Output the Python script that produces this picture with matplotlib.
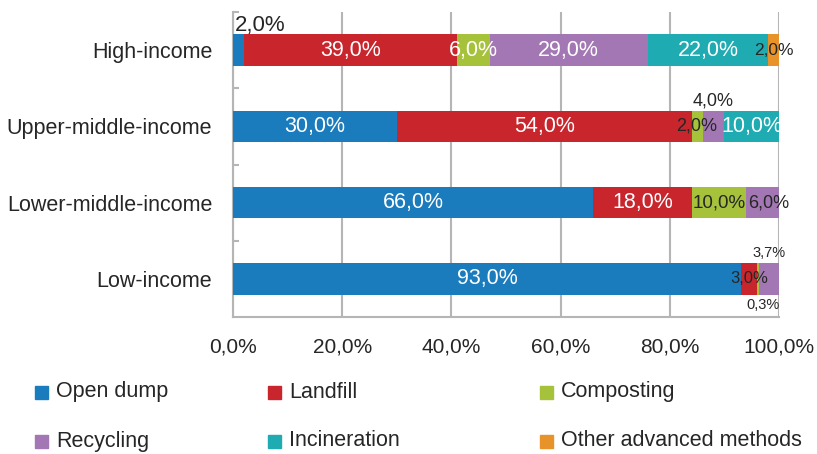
import matplotlib.pyplot as plt
import numpy as np
from matplotlib.patches import Rectangle

plt.rcParams['font.family'] = ['Liberation Sans', 'DejaVu Sans']

# waste treatment share by income group (%)
categories = ['High-income', 'Upper-middle-income', 'Lower-middle-income', 'Low-income']
series = ['Open dump', 'Landfill', 'Composting', 'Recycling', 'Incineration', 'Other advanced methods']
open_dump = [2.0, 30.0, 66.0, 93.0]
landfill = [39.0, 54.0, 18.0, 3.0]
composting = [6.0, 2.0, 10.0, 0.3]
recycling = [29.0, 4.0, 6.0, 3.7]
incineration = [22.0, 10.0, 0.0, 0.0]
other = [2.0, 0.0, 0.0, 0.0]
x_ticks = [0, 20, 40, 60, 80, 100]

colors = ['#1a7bbd', '#c8252c', '#a5c23a', '#a277b3', '#1eabb1', '#e8922a']
grey = '#b5b5b5'
dark = '#262626'

# labels that sit outside the bar, and labels drawn in dark text
outside = {('High-income', 'Open dump'): 'above_left',
           ('Upper-middle-income', 'Recycling'): 'above',
           ('Low-income', 'Recycling'): 'above',
           ('Low-income', 'Composting'): 'below'}
dark_labels = {('High-income', 'Other advanced methods'),
               ('Upper-middle-income', 'Composting'),
               ('Lower-middle-income', 'Composting'),
               ('Lower-middle-income', 'Recycling'),
               ('Low-income', 'Landfill')}
small_labels = {('High-income', 'Other advanced methods'): 12.5,
                ('Upper-middle-income', 'Composting'): 13,
                ('Upper-middle-income', 'Recycling'): 13,
                ('Lower-middle-income', 'Composting'): 13.5,
                ('Lower-middle-income', 'Recycling'): 13,
                ('Low-income', 'Landfill'): 12,
                ('Low-income', 'Recycling'): 10.5,
                ('Low-income', 'Composting'): 10.5}

W, H = 817, 454
fig = plt.figure(figsize=(W / 100, H / 100), dpi=100)
ax = fig.add_axes([233 / W, 1 - 317 / H, 546 / W, 305 / H])

ypos = np.arange(len(categories))[::-1]
bar_h = 0.41
left = np.zeros(len(categories))
for name, vals, col in zip(series, [open_dump, landfill, composting, recycling, incineration, other], colors):
    vals = np.array(vals)
    ax.barh(ypos, vals, left=left, height=bar_h, color=col, zorder=3)
    for i, v in enumerate(vals):
        if v <= 0:
            continue
        key = (categories[i], name)
        txt = f'{v:.1f}%'.replace('.', ',')
        fs = small_labels.get(key, 15.5)
        xc = left[i] + v / 2
        place = outside.get(key)
        if place == 'above_left':
            ax.text(0.3, ypos[i] + bar_h / 2 + 0.12, txt, ha='left', va='center',
                    fontsize=16, color=dark, zorder=4)
        elif place == 'above':
            ax.text(xc, ypos[i] + bar_h / 2 + 0.13, txt, ha='center', va='center',
                    fontsize=fs, color=dark, zorder=4)
        elif place == 'below':
            ax.text(xc + 1, ypos[i] - bar_h / 2 - 0.14, txt, ha='center', va='center',
                    fontsize=fs, color=dark, zorder=4)
        elif key == ('Lower-middle-income', 'Recycling'):
            ax.text(left[i] + 0.3, ypos[i], txt, ha='left', va='center', fontsize=fs,
                    color=dark, zorder=4)
        else:
            ax.text(xc, ypos[i], txt, ha='center', va='center', fontsize=fs,
                    color=dark if key in dark_labels else 'white', zorder=4)
    left += vals

ax.set_xlim(0, 100)
ax.set_ylim(-0.5, len(categories) - 0.5)
ax.set_xticks(x_ticks, [f'{t:.1f}%'.replace('.', ',') for t in x_ticks])
ax.set_yticks(ypos, categories)
ax.set_yticks(np.arange(len(categories)) + 0.5, minor=True)
ax.tick_params(axis='x', length=0, pad=15, labelsize=15, labelcolor=dark)
ax.tick_params(axis='y', which='major', length=0, pad=15, labelsize=15.5, labelcolor=dark)
ax.tick_params(axis='y', which='minor', direction='in', length=4.5, width=1.5, color=grey)
ax.grid(axis='x', color=grey, lw=1.5, zorder=0)
ax.set_axisbelow(True)
for s in ['top', 'right']:
    ax.spines[s].set_visible(False)
for s in ['left', 'bottom']:
    ax.spines[s].set_color(grey)
    ax.spines[s].set_linewidth(1.5)

# legend, three items per row
col_x = [35, 268, 540]
row_y = [392, 441]
for k, (name, col) in enumerate(zip(series, colors)):
    r, c = divmod(k, 3)
    x, y = col_x[c], row_y[r]
    fig.patches.append(Rectangle((x / W, 1 - (y + 6.5) / H), 13 / W, 13 / H,
                                 transform=fig.transFigure, color=col))
    fig.text((x + 21) / W, 1 - y / H, name, va='center', fontsize=15.5, color=dark)

fig.savefig('out.png', dpi=100)
